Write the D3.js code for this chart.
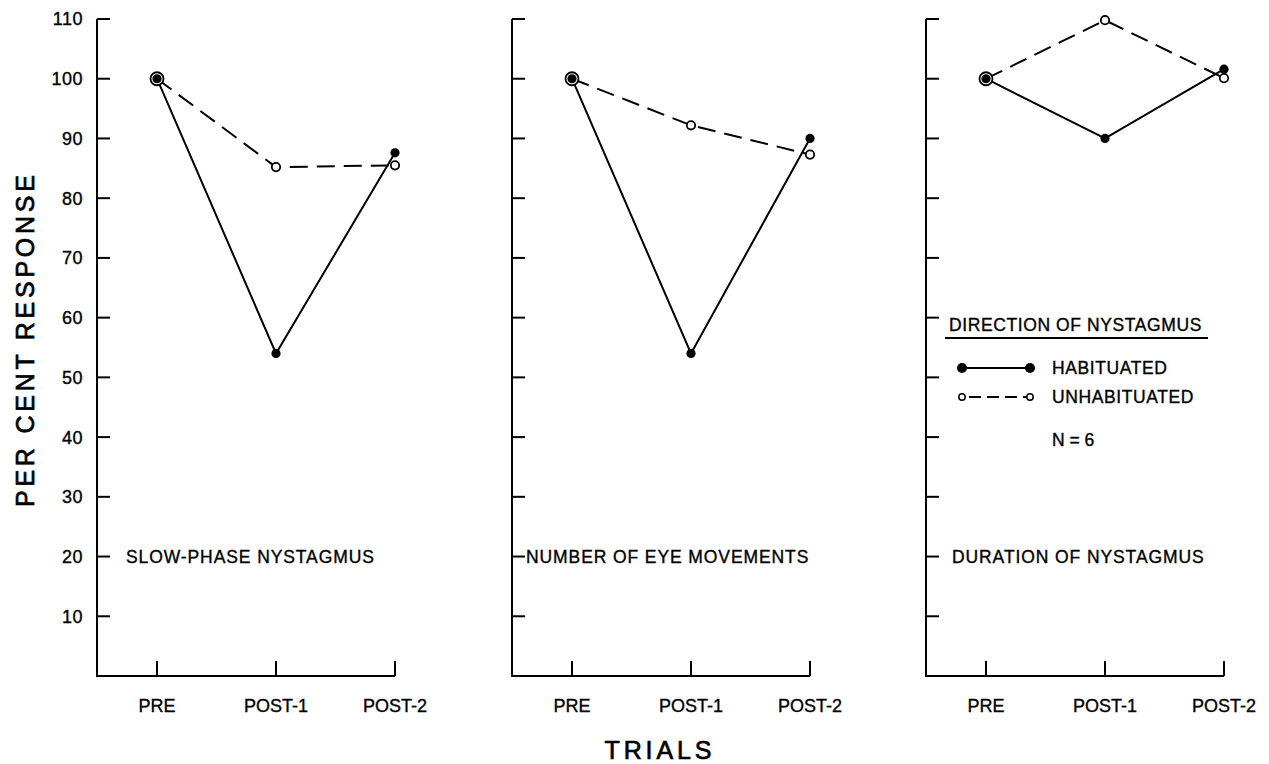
<!DOCTYPE html>
<html>
<head>
<meta charset="utf-8">
<script src="https://cdn.jsdelivr.net/npm/d3@7"></script>
<style>
  body { margin: 0; background: #fff; }
  svg { display: block; font-family: "Liberation Sans", Arial, sans-serif; }
  text { fill: #000; stroke: #000; stroke-width: 0.35; }
</style>
</head>
<body>
<svg id="chart" width="1269" height="764"></svg>
<script>
// Data
const trials = ["PRE", "POST-1", "POST-2"];
const panelTitles = ["SLOW-PHASE NYSTAGMUS", "NUMBER OF EYE MOVEMENTS", "DURATION OF NYSTAGMUS"];
const habituated = [
  [100, 54, 87.6],
  [100, 54, 90],
  [100, 90, 101.6]
];
const unhabituated = [
  [100, 85.2, 85.5],
  [100, 92.2, 87.3],
  [100, 109.8, 100.1]
];
const yTicks = [10, 20, 30, 40, 50, 60, 70, 80, 90, 100, 110];
const titleLevel = 20; // panel titles sit on the 20 tick

const svg = d3.select("#chart");
const panelLeft = [97, 512, 926];
const plotW = 298;
const y = d3.scaleLinear().domain([0, 110]).range([676, 19]);

panelLeft.forEach((left, p) => {
  const g = svg.append("g");
  const x = d3.scalePoint().domain(trials).range([left + 60, left + plotW]);

  // y axis line + inward ticks
  g.append("line")
    .attr("x1", left).attr("x2", left)
    .attr("y1", y(0)).attr("y2", y(110))
    .attr("stroke", "#000").attr("stroke-width", 2);
  g.selectAll(".yt").data(yTicks).enter().append("line")
    .attr("x1", left).attr("x2", left + 13)
    .attr("y1", d => y(d)).attr("y2", d => y(d))
    .attr("stroke", "#000").attr("stroke-width", 2);

  // only first panel carries numbers
  if (p === 0) {
    g.selectAll(".yl").data(yTicks).enter().append("text")
      .attr("x", left - 14).attr("y", d => y(d))
      .attr("dy", "0.36em")
      .attr("text-anchor", "end")
      .attr("font-size", 18)
      .attr("letter-spacing", 0.5)
      .text(d => d);
  }

  // x axis with upward ticks
  g.append("line")
    .attr("x1", left - 1).attr("x2", x("POST-2"))
    .attr("y1", y(0)).attr("y2", y(0))
    .attr("stroke", "#000").attr("stroke-width", 2);
  g.selectAll(".xt").data(trials).enter().append("line")
    .attr("x1", d => x(d)).attr("x2", d => x(d))
    .attr("y1", y(0)).attr("y2", y(0) - 15)
    .attr("stroke", "#000").attr("stroke-width", 2);
  g.selectAll(".xl").data(trials).enter().append("text")
    .attr("x", d => x(d)).attr("y", y(0) + 36)
    .attr("text-anchor", "middle")
    .attr("font-size", 18)
    .text(d => d);

  // panel title
  g.append("text")
    .attr("x", left + (p === 0 ? 29 : (p === 1 ? 14 : 26)))
    .attr("y", y(titleLevel))
    .attr("dy", "0.36em")
    .attr("font-size", 17.5)
    .attr("letter-spacing", 0.9)
    .text(panelTitles[p]);

  const hab = trials.map((t, i) => ({ t, v: habituated[p][i] }));
  const unh = trials.map((t, i) => ({ t, v: unhabituated[p][i], same: unhabituated[p][i] === habituated[p][i] }));
  const line = d3.line().x(d => x(d.t)).y(d => y(d.v));

  g.append("path").datum(hab)
    .attr("d", line).attr("fill", "none")
    .attr("stroke", "#000").attr("stroke-width", 2);
  g.append("path").datum(unh)
    .attr("d", line).attr("fill", "none")
    .attr("stroke", "#000").attr("stroke-width", 2)
    .attr("stroke-dasharray", "18,9");

  g.selectAll(".uo").data(unh).enter().append("circle")
    .attr("cx", d => x(d.t)).attr("cy", d => y(d.v))
    .attr("r", d => d.same ? 6.5 : 4.2)
    .attr("fill", "#fff").attr("stroke", "#000").attr("stroke-width", 1.8);
  g.selectAll(".hf").data(hab).enter().append("circle")
    .attr("cx", d => x(d.t)).attr("cy", d => y(d.v))
    .attr("r", 4.6)
    .attr("fill", "#000");
});

// axis titles
svg.append("text")
  .attr("transform", "translate(34,341) rotate(-90)")
  .attr("text-anchor", "middle")
  .attr("font-size", 25)
  .style("stroke-width", 0.7)
  .attr("textLength", 332).attr("lengthAdjust", "spacing")
  .text("PER CENT RESPONSE");
svg.append("text")
  .attr("x", 658).attr("y", 759)
  .attr("text-anchor", "middle")
  .attr("font-size", 25)
  .style("stroke-width", 0.7)
  .attr("textLength", 107).attr("lengthAdjust", "spacing")
  .text("TRIALS");

// legend (third panel)
const leg = svg.append("g");
leg.append("text")
  .attr("x", 949).attr("y", 331)
  .attr("font-size", 17.5)
  .attr("letter-spacing", 0.6)
  .text("DIRECTION OF NYSTAGMUS");
leg.append("line")
  .attr("x1", 945).attr("x2", 1208).attr("y1", 338).attr("y2", 338)
  .attr("stroke", "#000").attr("stroke-width", 2);

const legendItems = [
  { label: "HABITUATED", filled: true, yy: 368 },
  { label: "UNHABITUATED", filled: false, yy: 397 }
];
legendItems.forEach(it => {
  leg.append("line")
    .attr("x1", 962).attr("x2", 1030).attr("y1", it.yy).attr("y2", it.yy)
    .attr("stroke", "#000").attr("stroke-width", 2)
    .attr("stroke-dasharray", it.filled ? null : "12,6")
    .attr("stroke-dashoffset", it.filled ? null : -7);
  [962, 1030].forEach(cx => {
    leg.append("circle")
      .attr("cx", cx).attr("cy", it.yy)
      .attr("r", it.filled ? 5 : 3.2)
      .attr("fill", it.filled ? "#000" : "#fff")
      .attr("stroke", "#000").attr("stroke-width", it.filled ? 0 : 1.5);
  });
  leg.append("text")
    .attr("x", 1052).attr("y", it.yy).attr("dy", "0.36em")
    .attr("font-size", 17.5)
    .attr("letter-spacing", 0.6)
    .text(it.label);
});
leg.append("text")
  .attr("x", 1052).attr("y", 440).attr("dy", "0.36em")
  .attr("font-size", 17.5)
  .text("N = 6");
</script>
</body>
</html>
